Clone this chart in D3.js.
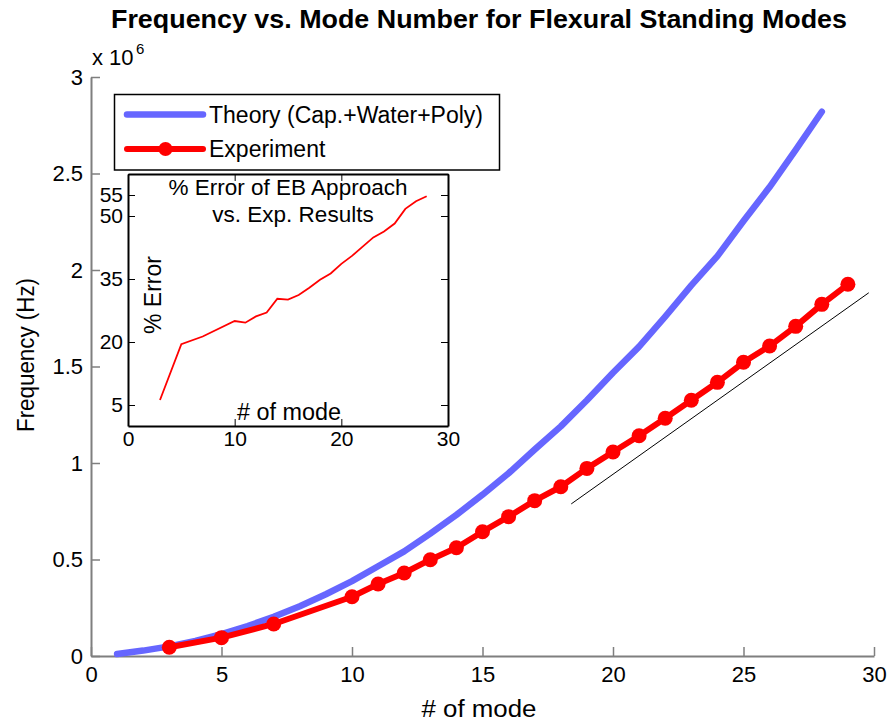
<!DOCTYPE html>
<html><head><meta charset="utf-8">
<script src="https://cdn.jsdelivr.net/npm/d3@7"></script>
<style>
body{margin:0;background:#fff;}
svg{display:block;font-family:"Liberation Sans",Arial,Helvetica,sans-serif;}
</style></head>
<body><svg id="c" width="890" height="723"></svg>
<script>
// ---- data ----
const theoryModes = d3.range(1, 29);
const theoryFreq = [0.010,0.028,0.050,0.078,0.113,0.155,0.203,0.258,0.320,0.388,0.465,0.542,0.634,0.731,0.836,0.947,1.070,1.190,1.325,1.468,1.603,1.758,1.920,2.072,2.254,2.430,2.622,2.820].map(v=>v*1e6);
const expModes = [3,5,7,10,11,12,13,14,15,16,17,18,19,20,21,22,23,24,25,26,27,28,29];
const expFreq = [0.045,0.095,0.166,0.307,0.373,0.430,0.499,0.561,0.644,0.722,0.805,0.877,0.972,1.057,1.141,1.232,1.325,1.418,1.522,1.606,1.708,1.822,1.926].map(v=>v*1e6);
const errModes = [3,5,7,10,11,12,13,14,15,16,17,18,19,20,21,22,23,24,25,26,27,28];
const errVals = [6.2,19.5,21.3,25.0,24.6,26.1,27.0,30.3,30.1,31.2,32.9,34.8,36.3,38.6,40.5,42.7,44.9,46.3,48.2,51.7,53.5,54.7];
const refX = [18.4, 29.8];
const refY = [0.788e6, 1.882e6];
const xTicks = [0,5,10,15,20,25,30];
const yTicks = [0,0.5,1,1.5,2,2.5,3].map(v=>v*1e6);
const insetXTicks = [0,10,20,30];
const insetYTicks = [5,20,35,50,55];
const legendLabels = ["Theory (Cap.+Water+Poly)", "Experiment"];

const svg = d3.select("#c");
const BLUE = "#6666ff", RED = "#ff0000";

// ---- main axes ----
const x = d3.scaleLinear().domain([0,30]).range([91,874]);
const y = d3.scaleLinear().domain([0,3e6]).range([656,77]);

const gx = svg.append("g").attr("transform","translate(0,656)")
  .call(d3.axisBottom(x).tickValues(xTicks).tickSizeInner(-9).tickSizeOuter(0).tickPadding(10).tickFormat(d3.format("d")));
const gy = svg.append("g").attr("transform","translate(91,0)")
  .call(d3.axisLeft(y).tickValues(yTicks).tickSizeInner(-9).tickSizeOuter(0).tickPadding(8).tickFormat(d=>String(d/1e6)));
[gx,gy].forEach(g=>{
  g.select(".domain").attr("stroke","#7f7f7f").attr("stroke-width",2);
  g.selectAll(".tick line").attr("stroke","#7f7f7f").attr("stroke-width",1.5);
  g.selectAll(".tick text").attr("font-size",22).attr("fill","#000").attr("font-family","Liberation Sans, Arial, sans-serif");
});

// multiplier
svg.append("text").attr("x",92).attr("y",65).attr("font-size",22).text("x 10");
svg.append("text").attr("x",136).attr("y",54).attr("font-size",15).text("6");

// title & labels
svg.append("text").attr("x",479).attr("y",28).attr("text-anchor","middle")
  .attr("font-size",25).attr("font-weight","bold").attr("textLength",736).attr("lengthAdjust","spacingAndGlyphs")
  .text("Frequency vs. Mode Number for Flexural Standing Modes");
svg.append("text").attr("x",479).attr("y",717).attr("text-anchor","middle")
  .attr("font-size",23).attr("textLength",115).attr("lengthAdjust","spacingAndGlyphs").text("# of mode");
svg.append("text").attr("transform","translate(34,355) rotate(-90)").attr("text-anchor","middle")
  .attr("font-size",23).attr("textLength",154).attr("lengthAdjust","spacingAndGlyphs").text("Frequency (Hz)");

// ---- series ----
const lineT = d3.line().x((d,i)=>x(theoryModes[i])).y(d=>y(d));
svg.append("path").datum(theoryFreq).attr("d",lineT).attr("fill","none")
  .attr("stroke",BLUE).attr("stroke-width",6.5).attr("stroke-linejoin","round").attr("stroke-linecap","round");

const lineE = d3.line().x((d,i)=>x(expModes[i])).y(d=>y(d));
svg.append("path").datum(expFreq).attr("d",lineE).attr("fill","none")
  .attr("stroke",RED).attr("stroke-width",6).attr("stroke-linejoin","round");
svg.append("g").selectAll("circle").data(expFreq).join("circle")
  .attr("cx",(d,i)=>x(expModes[i])).attr("cy",d=>y(d)).attr("r",7.5).attr("fill",RED);

svg.append("line").attr("x1",x(refX[0])).attr("y1",y(refY[0])).attr("x2",x(refX[1])).attr("y2",y(refY[1]))
  .attr("stroke","#000").attr("stroke-width",1);

// ---- legend ----
const lg = svg.append("g");
lg.append("rect").attr("x",114.5).attr("y",94.5).attr("width",385).attr("height",75.5)
  .attr("fill","#fff").attr("stroke","#000").attr("stroke-width",1.5);
lg.append("line").attr("x1",127).attr("x2",203).attr("y1",114.5).attr("y2",114.5)
  .attr("stroke",BLUE).attr("stroke-width",6.5).attr("stroke-linecap","round");
lg.append("line").attr("x1",127).attr("x2",203).attr("y1",149).attr("y2",149)
  .attr("stroke",RED).attr("stroke-width",6).attr("stroke-linecap","round");
lg.append("circle").attr("cx",165.5).attr("cy",149).attr("r",7).attr("fill",RED);
lg.selectAll("text.l").data(legendLabels).join("text").attr("class","l")
  .attr("x",209).attr("y",(d,i)=>[122.5,157][i]).attr("font-size",23).text(d=>d);

// ---- inset ----
const ix = d3.scaleLinear().domain([0,30]).range([128,448]);
const iy = d3.scaleLinear().domain([0,60]).range([426,174]);
const ig = svg.append("g");
ig.append("rect").attr("x",128).attr("y",174).attr("width",320).attr("height",252).attr("fill","#fff");
const igx = ig.append("g").attr("transform","translate(0,426)")
  .call(d3.axisBottom(ix).tickValues(insetXTicks).tickSizeInner(-7).tickSizeOuter(0).tickPadding(5));
const igy = ig.append("g").attr("transform","translate(128,0)")
  .call(d3.axisLeft(iy).tickValues(insetYTicks).tickSizeInner(-7).tickSizeOuter(0).tickPadding(5));
const igx2 = ig.append("g").attr("transform","translate(0,174)")
  .call(d3.axisTop(ix).tickValues(insetXTicks).tickSizeInner(-7).tickSizeOuter(0).tickFormat(""));
const igy2 = ig.append("g").attr("transform","translate(448,0)")
  .call(d3.axisRight(iy).tickValues(insetYTicks).tickSizeInner(-7).tickSizeOuter(0).tickFormat(""));
[igx,igy,igx2,igy2].forEach(g=>{
  g.select(".domain").attr("stroke","#000").attr("stroke-width",2);
  g.selectAll(".tick line").attr("stroke","#000").attr("stroke-width",1);
  g.selectAll(".tick text").attr("font-size",21).attr("fill","#000").attr("font-family","Liberation Sans, Arial, sans-serif");
});
const lineI = d3.line().x((d,i)=>ix(errModes[i])).y(d=>iy(d));
ig.append("path").datum(errVals).attr("d",lineI).attr("fill","none").attr("stroke",RED).attr("stroke-width",1.8);
ig.append("text").attr("x",288).attr("y",195).attr("text-anchor","middle").attr("font-size",22.5).text("% Error of EB Approach");
ig.append("text").attr("x",293).attr("y",222).attr("text-anchor","middle").attr("font-size",22.5).text("vs. Exp. Results");
ig.append("text").attr("x",289).attr("y",420).attr("text-anchor","middle").attr("font-size",23).attr("textLength",104).attr("lengthAdjust","spacingAndGlyphs").text("# of mode");
ig.append("text").attr("transform","translate(161,295) rotate(-90)").attr("text-anchor","middle").attr("font-size",23).text("% Error");
</script></body></html>
